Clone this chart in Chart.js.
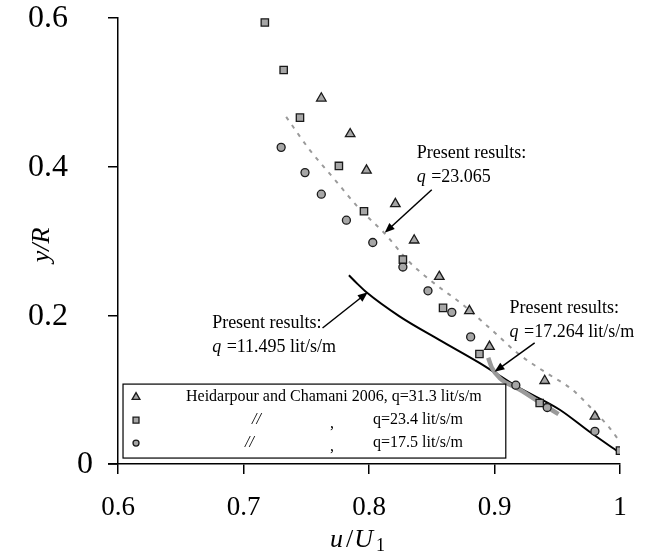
<!DOCTYPE html>
<html>
<head>
<meta charset="utf-8">
<script src="https://cdn.jsdelivr.net/npm/chart.js@4.4.1/dist/chart.umd.min.js"></script>
<style>
  body { margin: 0; background: #fff; }
  #wrap { width: 651px; height: 554px; }
</style>
</head>
<body>
<div id="wrap"><canvas id="chart" width="651" height="554"></canvas></div>
<script>
'use strict';

// axis ticks
const xTicks = [0.6, 0.7, 0.8, 0.9, 1];
const yTicks = [0, 0.2, 0.4, 0.6];

// Heidarpour and Chamani 2006, q=31.3 lit/s/m (triangles)
const tri31x = [0.762, 0.785, 0.798, 0.821, 0.836, 0.856, 0.880, 0.896, 0.940, 0.980];
const tri31y = [0.492, 0.444, 0.395, 0.350, 0.301, 0.252, 0.206, 0.158, 0.112, 0.064];

// q=23.4 lit/s/m (squares)
const sq23x = [0.717, 0.732, 0.745, 0.776, 0.796, 0.827, 0.859, 0.888, 0.936, 1.000];
const sq23y = [0.594, 0.530, 0.466, 0.401, 0.340, 0.275, 0.210, 0.148, 0.082, 0.018];

// q=17.5 lit/s/m (circles)
const circ17x = [0.730, 0.749, 0.762, 0.782, 0.803, 0.827, 0.847, 0.866, 0.881, 0.917, 0.942, 0.980];
const circ17y = [0.426, 0.392, 0.363, 0.328, 0.298, 0.265, 0.233, 0.204, 0.171, 0.106, 0.076, 0.044];

// present results, q=23.065 (dashed)
const res23x = [0.734, 0.753, 0.773, 0.792, 0.812, 0.832, 0.852, 0.875, 0.896, 0.920, 0.940, 0.962, 0.976, 0.992, 0.999];
const res23y = [0.467, 0.422, 0.382, 0.344, 0.311, 0.272, 0.243, 0.214, 0.183, 0.147, 0.124, 0.100, 0.077, 0.048, 0.032];

// present results, q=17.264 (thick grey)
const res17x = [0.895, 0.898, 0.904, 0.920, 0.936, 0.951];
const res17y = [0.143, 0.129, 0.116, 0.100, 0.083, 0.067];

// present results, q=11.495 (black)
const res11x = [0.784, 0.791, 0.798, 0.824, 0.856, 0.888, 0.918, 0.952, 0.976, 0.999];
const res11y = [0.254, 0.242, 0.231, 0.199, 0.167, 0.136, 0.104, 0.073, 0.043, 0.016];

const serif = "'Liberation Serif', 'Times New Roman', serif";

function pts(xs, ys) {
  let out = [];
  for (let i = 0; i < xs.length; i++) {
    out.push({ x: xs[i], y: ys[i] });
  }
  return out;
}

function markerSet(label, xs, ys, style, radius) {
  return {
    label: label,
    data: pts(xs, ys),
    pointStyle: style,
    pointRadius: radius,
    pointBackgroundColor: '#a6a6a6',
    pointBorderColor: '#1a1a1a',
    pointBorderWidth: 1.3,
    showLine: false
  };
}

function lineSet(label, xs, ys, color, width, dash) {
  return {
    label: label,
    data: pts(xs, ys),
    showLine: true,
    pointRadius: 0,
    borderColor: color,
    borderWidth: width,
    borderDash: dash,
    cubicInterpolationMode: 'monotone',
    fill: false
  };
}

// annotations: text anchor and arrow, in data units
const notes = [
  { x: 0.838, y: 0.418, val: '=23.065', ax: [0.850, 0.369], tip: [0.8125, 0.311] },
  { x: 0.675, y: 0.190, val: '=11.495 lit/s/m', ax: [0.763, 0.183], tip: [0.799, 0.231] },
  { x: 0.912, y: 0.210, val: '=17.264 lit/s/m', ax: [0.932, 0.163], tip: [0.900, 0.124] }
];

const legendRows = [
  { ds: 0, parts: [['Heidarpour and Chamani 2006, q=31.3 lit/s/m', 186]] },
  { ds: 1, parts: [['//', 252], [',', 330], ['q=23.4 lit/s/m', 373]] },
  { ds: 2, parts: [['//', 245], [',', 330], ['q=17.5 lit/s/m', 373]] }
];

function arrow(ctx, x1, y1, x2, y2) {
  let a = Math.atan2(y2 - y1, x2 - x1);
  ctx.beginPath();
  ctx.moveTo(x1, y1);
  ctx.lineTo(x2 - 6 * Math.cos(a), y2 - 6 * Math.sin(a));
  ctx.stroke();
  ctx.beginPath();
  ctx.moveTo(x2, y2);
  ctx.lineTo(x2 - 10 * Math.cos(a) + 4 * Math.sin(a), y2 - 10 * Math.sin(a) - 4 * Math.cos(a));
  ctx.lineTo(x2 - 10 * Math.cos(a) - 4 * Math.sin(a), y2 - 10 * Math.sin(a) + 4 * Math.cos(a));
  ctx.closePath();
  ctx.fill();
}

const extras = {
  id: 'extras',
  afterDraw(chart) {
    const ctx = chart.ctx;
    const xs = chart.scales.x;
    const ys = chart.scales.y;
    const area = chart.chartArea;
    ctx.save();
    ctx.fillStyle = '#000';
    ctx.strokeStyle = '#000';

    // x axis line runs a bit past the y axis
    ctx.lineWidth = 1.5;
    ctx.beginPath();
    ctx.moveTo(area.left - 10, area.bottom);
    ctx.lineTo(area.left, area.bottom);
    ctx.stroke();

    // y tick labels (the zero sits closer to the axis, as in the original)
    ctx.font = '32px ' + serif;
    ctx.textAlign = 'right';
    ctx.textBaseline = 'middle';
    yTicks.forEach(v => {
      let gap = v === 0 ? 25 : 50;
      ctx.fillText(String(v), area.left - gap, ys.getPixelForValue(v) + 1);
    });

    // axis titles
    ctx.textAlign = 'left';
    let tx = 330, ty = 540;
    ctx.font = 'italic 26px ' + serif;
    ctx.fillText('u', tx, ty);
    tx += ctx.measureText('u').width + 3;
    ctx.font = '26px ' + serif;
    ctx.fillText('/', tx, ty);
    tx += ctx.measureText('/').width + 1;
    ctx.font = 'italic 26px ' + serif;
    ctx.fillText('U', tx, ty);
    tx += ctx.measureText('U').width + 3;
    ctx.font = '18px ' + serif;
    ctx.fillText('1', tx, ty + 6);

    ctx.save();
    ctx.translate(42, 245);
    ctx.rotate(-Math.PI / 2);
    ctx.textAlign = 'center';
    ctx.font = 'italic 26px ' + serif;
    ctx.fillText('y/R', 0, 0);
    ctx.restore();

    // annotations
    ctx.lineWidth = 1.5;
    notes.forEach(n => {
      let px = xs.getPixelForValue(n.x);
      let py = ys.getPixelForValue(n.y);
      ctx.textAlign = 'left';
      ctx.font = '18px ' + serif;
      ctx.fillText('Present results:', px, py);
      ctx.font = 'italic 18px ' + serif;
      ctx.fillText('q', px, py + 24);
      let w = ctx.measureText('q ').width;
      ctx.font = '18px ' + serif;
      ctx.fillText(n.val, px + w + 1, py + 24);
      arrow(ctx, xs.getPixelForValue(n.ax[0]), ys.getPixelForValue(n.ax[1]),
        xs.getPixelForValue(n.tip[0]), ys.getPixelForValue(n.tip[1]));
    });

    // legend box
    let bx = xs.getPixelForValue(0.604), by = ys.getPixelForValue(0.1075);
    let bw = xs.getPixelForValue(0.909) - bx, bh = ys.getPixelForValue(0.008) - by;
    ctx.fillStyle = '#fff';
    ctx.fillRect(bx, by, bw, bh);
    ctx.lineWidth = 1.2;
    ctx.strokeRect(bx, by, bw, bh);
    legendRows.forEach((row, i) => {
      let ds = chart.data.datasets[row.ds];
      let ry = by + 13 + i * 23;
      ctx.fillStyle = ds.pointBackgroundColor;
      ctx.strokeStyle = ds.pointBorderColor;
      ctx.lineWidth = ds.pointBorderWidth;
      Chart.helpers.drawPoint(ctx, { pointStyle: ds.pointStyle, radius: ds.pointRadius - 1, rotation: 0, borderWidth: ds.pointBorderWidth }, bx + 13, ry);
      ctx.fillStyle = '#000';
      ctx.textAlign = 'left';
      row.parts.forEach(p => {
        if (p[0] === '//') ctx.font = 'italic 16px ' + serif;
        else ctx.font = '16px ' + serif;
        ctx.fillText(p[0], p[1], ry + (p[0] === ',' ? 4 : 0));
      });
    });
    ctx.restore();
  }
};

let config = {
  type: 'scatter',
  data: {
    datasets: [
      markerSet('Heidarpour and Chamani 2006, q=31.3 lit/s/m', tri31x, tri31y, 'triangle', 5.5),
      markerSet('q=23.4 lit/s/m', sq23x, sq23y, 'rect', 5.2),
      markerSet('q=17.5 lit/s/m', circ17x, circ17y, 'circle', 4),
      lineSet('Present results: q=23.065', res23x, res23y, '#9a9a9a', 2, [4, 6]),
      lineSet('Present results: q=17.264 lit/s/m', res17x, res17y, '#9a9a9a', 4.5, []),
      lineSet('Present results: q=11.495 lit/s/m', res11x, res11y, '#000', 2, [])
    ]
  },
  options: {
    responsive: false,
    animation: false,
    layout: { padding: { top: 18, right: 31, left: 0, bottom: 0 } },
    plugins: {
      legend: { display: false },
      tooltip: { enabled: false }
    },
    scales: {
      x: {
        type: 'linear',
        min: 0.6,
        max: 1,
        afterFit: s => { s.height = 90; },
        afterBuildTicks: s => { s.ticks = xTicks.map(v => ({ value: v })); },
        border: { color: '#000', width: 1.5 },
        grid: { drawOnChartArea: false, drawTicks: true, tickLength: 10, color: '#000', lineWidth: 1.5 },
        ticks: {
          color: '#000',
          padding: 18,
          maxRotation: 0,
          font: { family: serif, size: 27 },
          callback: v => String(v)
        }
      },
      y: {
        type: 'linear',
        min: 0,
        max: 0.6,
        afterFit: s => { s.width = 118; },
        afterBuildTicks: s => { s.ticks = yTicks.map(v => ({ value: v })); },
        border: { color: '#000', width: 1.5 },
        grid: { drawOnChartArea: false, drawTicks: true, tickLength: 10, color: '#000', lineWidth: 1.5 },
        ticks: { display: false }
      }
    }
  },
  plugins: [extras]
};

new Chart(document.getElementById('chart'), config);
</script>
</body>
</html>
